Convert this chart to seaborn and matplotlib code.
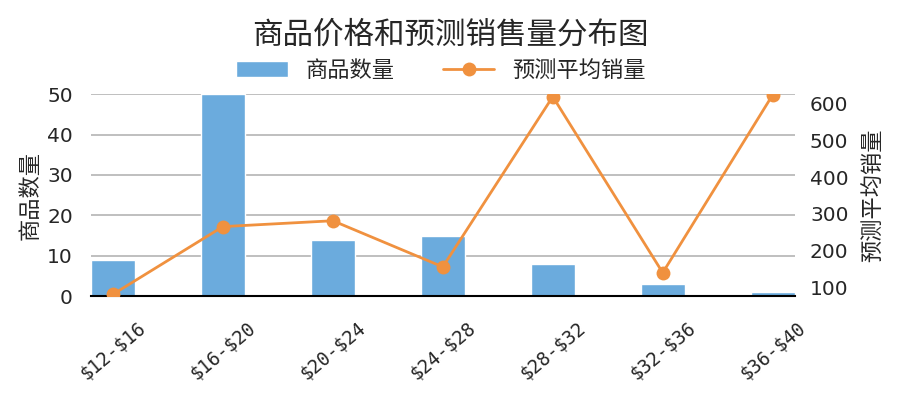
import numpy as np
import pandas as pd
import matplotlib
matplotlib.use('Agg')
import matplotlib.pyplot as plt
import seaborn as sns

price_ranges = ['$12-$16', '$16-$20', '$20-$24', '$24-$28', '$28-$32', '$32-$36', '$36-$40']
item_counts = [9, 50, 14, 15, 8, 3, 1]
avg_sales = [80, 265, 281, 155, 620, 139, 625]

sns.set_style('white')
plt.rcParams['font.family'] = ['Noto Sans CJK SC', 'DejaVu Sans']

df = pd.DataFrame({'range': price_ranges, 'count': item_counts, 'sales': avg_sales})

bar_color = '#6BABDD'
line_color = '#F0913F'

fig, ax = plt.subplots(figsize=(9, 3.97), dpi=100)
fig.subplots_adjust(left=0.101, right=0.883, top=0.763, bottom=0.254)

sns.barplot(data=df, x='range', y='count', color=bar_color, width=0.4,
            saturation=1, ax=ax, label='商品数量', zorder=2)
ax.set_ylim(0, 50)
ax.set_xlim(-0.2, 6.2)
ax.set_yticks([0, 10, 20, 30, 40, 50])
ax.yaxis.grid(True, color='#b4b4b4', linewidth=1.2, zorder=0)
ax.set_axisbelow(True)
for s in ['left', 'right', 'top']:
    ax.spines[s].set_visible(False)
ax.spines['bottom'].set_color('black')
ax.spines['bottom'].set_linewidth(1.5)
ax.set_xlabel('')
ax.set_ylabel('商品数量', fontsize=16, labelpad=4)
ax.tick_params(axis='y', labelsize=14.5, length=0, pad=13)
ax.tick_params(axis='x', length=0, pad=16)
ax.set_xticks(range(len(price_ranges)))
ax.set_xticklabels(price_ranges, rotation=40, ha='center',
                   fontsize=13.5, family='DejaVu Sans Mono')
for t in ax.get_xticklabels():
    t.set_parse_math(False)
for t in ax.get_yticklabels():
    t.set_family('DejaVu Sans')

ax2 = ax.twinx()
sns.lineplot(data=df, x='range', y='sales', sort=False, color=line_color,
             linewidth=2, marker='o', markersize=10, markeredgewidth=0,
             ax=ax2, label='预测平均销量', zorder=3)
ax2.set_ylim(75, 627)
ax2.set_yticks([100, 200, 300, 400, 500, 600])
ax2.set_xlim(-0.2, 6.2)
for s in ['left', 'right', 'top', 'bottom']:
    ax2.spines[s].set_visible(False)
ax2.set_ylabel('预测平均销量', fontsize=16, labelpad=9)
ax2.tick_params(axis='y', labelsize=14.5, length=0, pad=11)
for t in ax2.get_yticklabels():
    t.set_family('DejaVu Sans')
ax2.set_xlabel('')
ax2.grid(False)

h1, l1 = ax.get_legend_handles_labels()
h2, l2 = ax2.get_legend_handles_labels()
if ax.get_legend():
    ax.get_legend().remove()
if ax2.get_legend():
    ax2.get_legend().remove()
fig.legend(h1 + h2, l1 + l2, loc='center', bbox_to_anchor=(0.49, 0.823), ncol=2,
           frameon=False, fontsize=16, columnspacing=2.2, handlelength=2.3)

fig.suptitle('商品价格和预测销售量分布图', fontsize=22, y=0.95)

fig.savefig('out.png', dpi=100)
